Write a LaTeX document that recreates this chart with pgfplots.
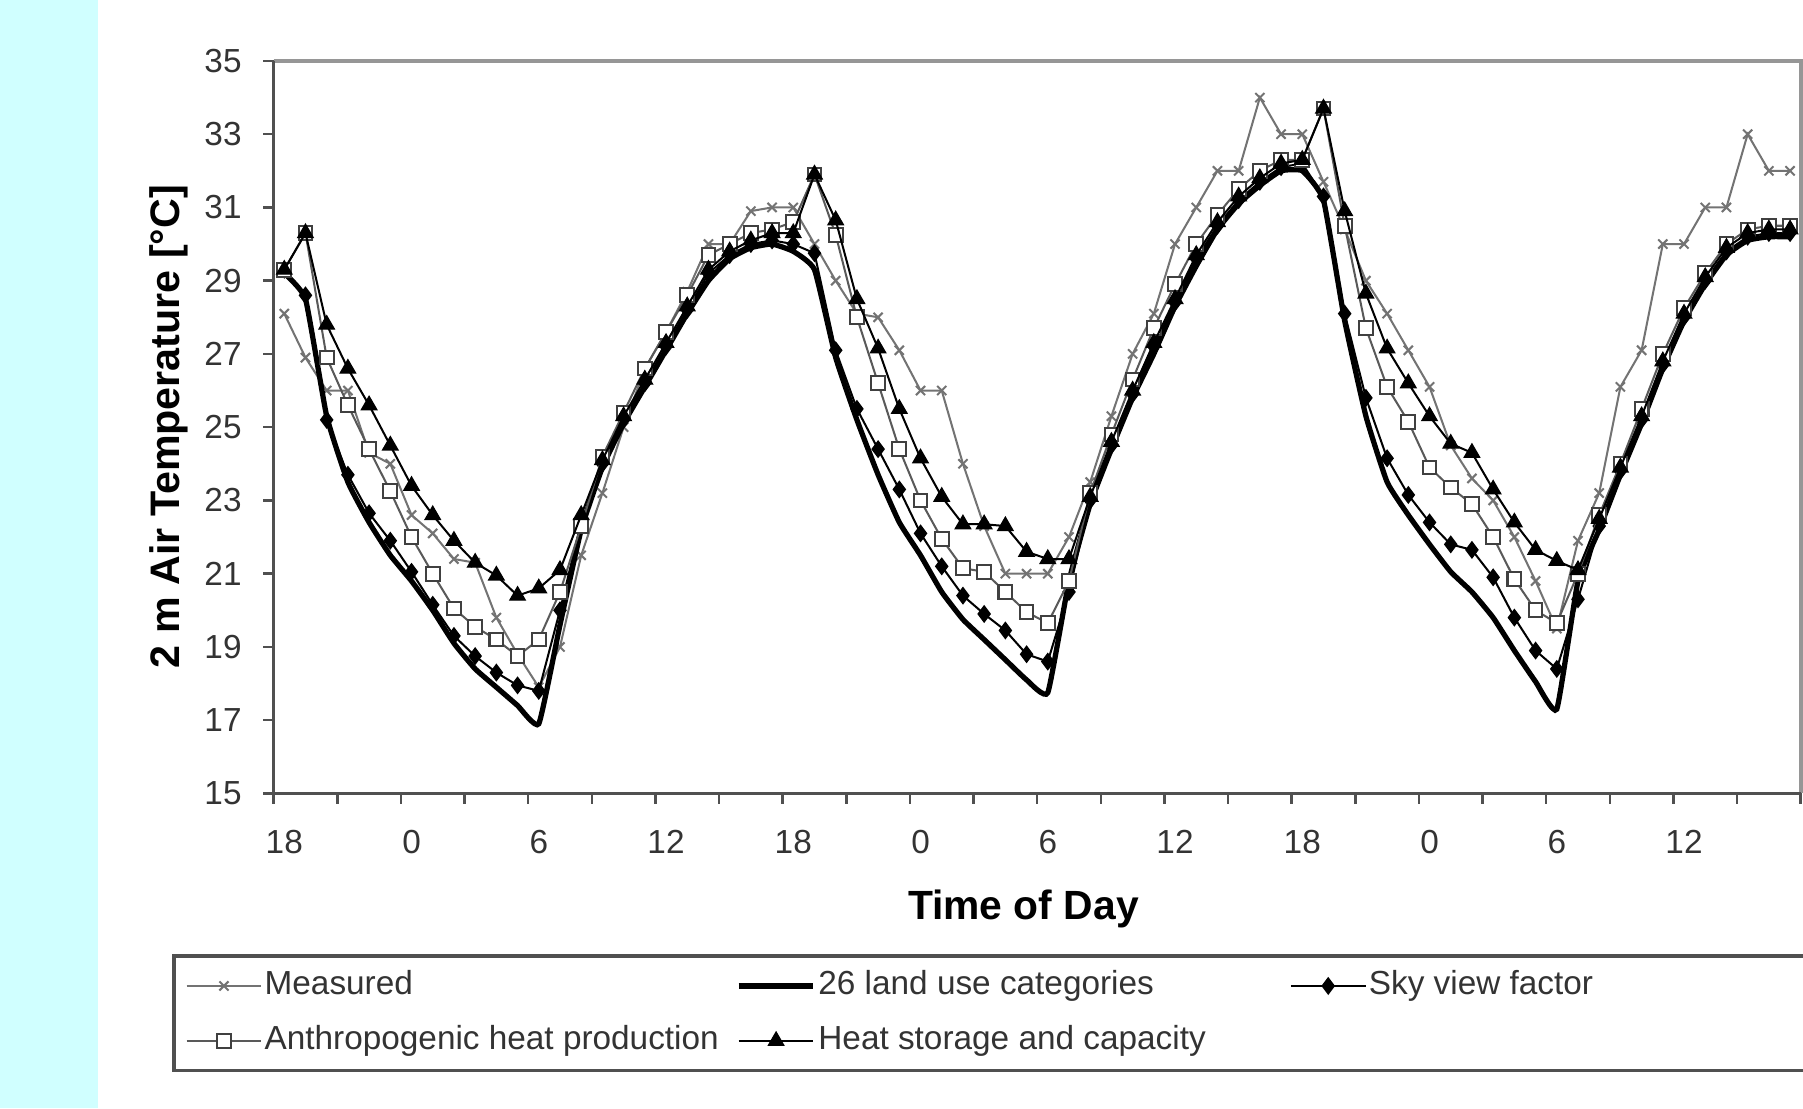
\documentclass[border=0pt]{standalone}
\usepackage{fontspec}
\setmainfont{Liberation Sans}
\usepackage{pgfplots}
\usepackage{pgfplotstable}
\pgfplotsset{compat=1.18}
\definecolor{cyanbg}{RGB}{208,255,255}
\definecolor{axgray}{RGB}{80,80,80}
\definecolor{bordergray}{RGB}{150,150,150}
\definecolor{measgray}{RGB}{115,115,115}

\pgfplotstableread{
i meas lu svf ahp hsc
0 28.1 29.2 29.3 29.3 29.3
1 26.9 28.5 28.6 30.3 30.3
2 26.0 25.3 25.2 26.9 27.8
3 26.0 23.5 23.7 25.6 26.6
4 24.3 22.4 22.65 24.4 25.6
5 24.0 21.5 21.9 23.25 24.5
6 22.6 20.8 21.05 22.0 23.4
7 22.1 20.0 20.15 21.0 22.6
8 21.4 19.1 19.3 20.05 21.9
9 21.3 18.4 18.75 19.55 21.3
10 19.8 17.9 18.3 19.2 20.95
11 18.8 17.4 17.95 18.75 20.4
12 17.9 16.9 17.8 19.2 20.6
13 19.0 19.6 20.0 20.5 21.1
14 21.5 22.2 22.4 22.3 22.6
15 23.2 23.9 24.0 24.2 24.1
16 25.0 25.1 25.2 25.4 25.3
17 26.6 26.1 26.2 26.6 26.3
18 27.6 27.1 27.2 27.6 27.3
19 28.7 28.1 28.2 28.6 28.3
20 30.0 29.0 29.2 29.7 29.3
21 30.0 29.6 29.7 30.0 29.8
22 30.9 29.9 30.0 30.3 30.1
23 31.0 30.0 30.1 30.4 30.3
24 31.0 29.8 30.0 30.6 30.3
25 30.0 29.3 29.75 31.9 31.9
26 29.0 26.9 27.1 30.25 30.65
27 28.1 25.2 25.5 28.0 28.5
28 28.0 23.7 24.4 26.2 27.15
29 27.1 22.4 23.3 24.4 25.5
30 26.0 21.5 22.1 23.0 24.15
31 26.0 20.5 21.2 21.95 23.1
32 24.0 19.75 20.4 21.15 22.35
33 22.3 19.2 19.9 21.05 22.35
34 21.0 18.65 19.45 20.5 22.3
35 21.0 18.1 18.8 19.95 21.6
36 21.0 17.75 18.6 19.65 21.4
37 22.0 20.8 20.5 20.8 21.4
38 23.5 22.9 23.0 23.2 23.1
39 25.3 24.4 24.5 24.8 24.6
40 27.0 25.8 25.9 26.3 26.0
41 28.1 27.0 27.2 27.7 27.3
42 30.0 28.3 28.4 28.9 28.5
43 31.0 29.4 29.6 30.0 29.7
44 32.0 30.4 30.5 30.8 30.6
45 32.0 31.1 31.2 31.5 31.3
46 34.0 31.6 31.7 32.0 31.8
47 33.0 32.0 32.1 32.3 32.2
48 33.0 32.0 32.2 32.3 32.3
49 31.7 31.2 31.3 33.7 33.7
50 30.4 27.9 28.1 30.5 30.9
51 29.0 25.3 25.8 27.7 28.65
52 28.1 23.5 24.15 26.1 27.15
53 27.1 22.6 23.15 25.15 26.2
54 26.1 21.8 22.4 23.9 25.3
55 24.5 21.05 21.8 23.35 24.55
56 23.6 20.5 21.65 22.9 24.3
57 23.0 19.8 20.9 22.0 23.3
58 22.0 18.9 19.8 20.85 22.4
59 20.8 18.05 18.9 20.0 21.65
60 19.5 17.3 18.4 19.65 21.35
61 21.9 20.8 20.3 21.0 21.1
62 23.2 22.2 22.3 22.6 22.5
63 26.1 23.7 23.8 24.0 23.9
64 27.1 25.1 25.2 25.5 25.3
65 30.0 26.6 26.7 27.0 26.8
66 30.0 27.9 28.0 28.25 28.1
67 31.0 28.9 29.0 29.2 29.1
68 31.0 29.7 29.8 30.0 29.9
69 33.0 30.1 30.2 30.4 30.3
70 32.0 30.2 30.3 30.5 30.4
71 32.0 30.2 30.3 30.5 30.4
}\datatable

\begin{document}
\begin{tikzpicture}
\fill[cyanbg] (0,0) rectangle (0.85cm,9.64cm);
\begin{axis}[
  at={(2.38cm,2.74cm)}, anchor=south west,
  scale only axis, width=13.28cm, height=6.37cm,
  xmin=-0.5, xmax=71.5, ymin=15, ymax=35,
  clip mode=individual,
  axis line style={draw=none},
  tick pos=left, tick align=outside,
  ytick={15,17,...,35},
  xtick={0,6,...,66},
  xticklabels={18,0,6,12,18,0,6,12,18,0,6,12},
  minor xtick={-0.5,2.5,...,71.5},
  major x tick style={draw=none},
  minor x tick style={draw=axgray, line width=0.6pt},
  major y tick style={draw=axgray, line width=0.6pt},
  major tick length=0.09cm, minor tick length=0.09cm,
  /pgf/number format/assume math mode=true,
  ticklabel style={font=\fontsize{8.25}{10}\selectfont, text=black!80},
  xticklabel style={yshift=-0.11cm},
  yticklabel style={xshift=-0.065cm},
  xlabel={Time of Day},
  ylabel={2 m Air Temperature [°C]},
  xlabel style={at={(axis description cs:0.491,-0.1727)}, anchor=base, font=\bfseries\fontsize{10.1}{12}\selectfont},
  ylabel style={at={(axis description cs:-0.0617,0.5008)}, anchor=base, font=\bfseries\fontsize{10.2}{12}\selectfont},
  legend columns=3,
  legend cell align=left,
  legend style={
    at={(axis description cs:-0.06627,-0.21978)}, anchor=north west,
    draw=axgray, line width=0.8pt,
    font=\fontsize{8.25}{10}\selectfont,
    inner xsep=0.1cm, inner ysep=1.9pt,
    row sep=2.6pt,
    nodes={inner xsep=0pt, inner ysep=1.5pt, text height=6.2pt, text depth=1.8pt, text=black!80},
    /tikz/every odd column/.append style={column sep=0.02cm},
    /tikz/every even column/.append style={column sep=0cm},
  },
  legend image code/.code={\draw[mark repeat=2,mark phase=2,#1] plot coordinates {(0cm,0cm) (0.325cm,0cm) (0.65cm,0cm)};},
]
\addplot[measgray, line width=0.5pt, mark=x, mark size=1.6pt, mark options={line width=0.5pt}] table[x=i,y=meas] {\datatable};
\addlegendentry{\makebox[4.1cm][l]{Measured}}
\addplot[black, line width=1.3pt, no markers, smooth, tension=0.25] table[x=i,y=lu] {\datatable};
\addlegendentry{\makebox[4.1cm][l]{26 land use categories}}
\addplot[black, line width=0.5pt, mark=diamond*, mark size=2.0pt, mark options={line width=0.3pt}] table[x=i,y=svf] {\datatable};
\addlegendentry{\makebox[4.1cm][l]{Sky view factor}}
\addplot[black!65, line width=0.5pt, mark=square*, mark size=1.7pt, mark options={fill=white, draw=black!75, line width=0.5pt}] table[x=i,y=ahp] {\datatable};
\addlegendentry{\makebox[4.1cm][l]{Anthropogenic heat production}}
\addplot[black, line width=0.5pt, mark=triangle*, mark size=2.2pt, mark options={line width=0.3pt}] table[x=i,y=hsc] {\datatable};
\addlegendentry{\makebox[4.1cm][l]{Heat storage and capacity}}
\draw[bordergray, line width=0.9pt] (rel axis cs:0,1) -- (rel axis cs:1,1) -- (rel axis cs:1,0);
\draw[axgray, line width=0.8pt] (rel axis cs:0,1) -- (rel axis cs:0,0) -- (rel axis cs:1,0);
\end{axis}
\pgfresetboundingbox
\path[use as bounding box] (0,0) rectangle (15.68cm,9.64cm);
\end{tikzpicture}
\end{document}
